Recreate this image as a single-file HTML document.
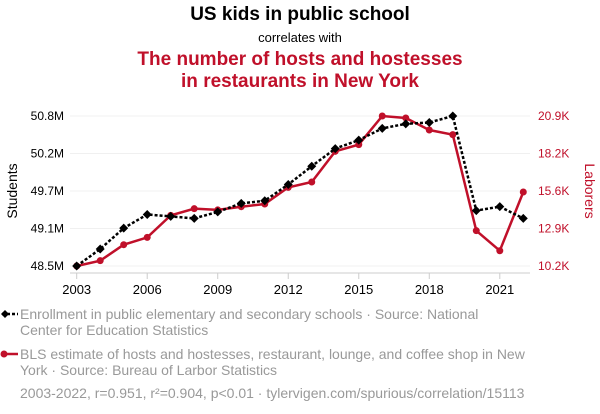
<!DOCTYPE html>
<html><head><meta charset="utf-8"><style>
body{margin:0;width:600px;height:414px;background:#fff;overflow:hidden;font-family:"Liberation Sans",sans-serif}
svg{display:block}
</style></head><body>
<svg id="chart" width="600" height="414">
<text x="300" y="20" text-anchor="middle" font-size="19" font-weight="bold" fill="#000">US kids in public school</text>
<text x="300" y="42" text-anchor="middle" font-size="13" fill="#000">correlates with</text>
<text x="300" y="65" text-anchor="middle" font-size="19" font-weight="bold" fill="#c0102a">The number of hosts and hostesses</text>
<text x="300" y="87" text-anchor="middle" font-size="19" font-weight="bold" fill="#c0102a">in restaurants in New York</text>
<text transform="translate(17,191) rotate(-90)" text-anchor="middle" font-size="14" fill="#000">Students</text>
<text transform="translate(585,191) rotate(90)" text-anchor="middle" font-size="14" fill="#c0102a">Laborers</text>
<g id="grid"></g><g id="axes"></g><g id="series"></g>
<g>
<line x1="2" y1="314" x2="18" y2="314" stroke="#000" stroke-width="2.5" stroke-dasharray="3,2"/>
<path d="M5,310 L9,314 L5,318 L1,314Z" fill="#000"/>
<text x="20" y="319" font-size="14" fill="#999">Enrollment in public elementary and secondary schools · Source: National</text>
<text x="20" y="335" font-size="14" fill="#999">Center for Education Statistics</text>
</g>
<g>
<line x1="2" y1="354" x2="18" y2="354" stroke="#c0102a" stroke-width="2.5"/>
<circle cx="4" cy="354" r="3.5" fill="#c0102a"/>
<text x="20" y="359" font-size="14" fill="#999">BLS estimate of hosts and hostesses, restaurant, lounge, and coffee shop in New</text>
<text x="20" y="375" font-size="14" fill="#999">York · Source: Bureau of Larbor Statistics</text>
</g>
<text x="20" y="398" font-size="14" fill="#999">2003-2022, r=0.951, r²=0.904, p&lt;0.01 · tylervigen.com/spurious/correlation/15113</text>
</svg>
<script>
const years=[2003,2004,2005,2006,2007,2008,2009,2010,2011,2012,2013,2014,2015,2016,2017,2018,2019,2020,2021,2022];
const students=[48.5,48.76,49.08,49.29,49.26,49.23,49.33,49.46,49.50,49.75,50.03,50.30,50.43,50.61,50.68,50.70,50.8,49.35,49.41,49.23];
const laborers=[10.2,10.58,11.72,12.24,13.81,14.29,14.2,14.43,14.62,15.81,16.19,18.38,18.86,20.9,20.76,19.9,19.57,12.72,11.29,15.48];
const leftTicks=[48.5,49.075,49.65,50.225,50.8];
const leftLabels=["48.5M","49.1M","49.7M","50.2M","50.8M"];
const rightTicks=[10.2,12.875,15.55,18.225,20.9];
const rightLabels=["10.2K","12.9K","15.6K","18.2K","20.9K"];
const xTicks=[2003,2006,2009,2012,2015,2018,2021];
const NS="http://www.w3.org/2000/svg";
const X=y=>76.7+(y-2003)*23.505;
const YL=v=>266-(v-48.5)/(50.8-48.5)*150;
const YR=v=>266-(v-10.2)/(20.9-10.2)*150;
function mk(tag,attrs,parent){const e=document.createElementNS(NS,tag);for(const k in attrs)e.setAttribute(k,attrs[k]);document.getElementById(parent).appendChild(e);return e;}
leftTicks.forEach((t,i)=>{
 const g=mk('line',{x1:70,x2:530,y1:YL(t),y2:YL(t),stroke:'#f0f0f0','stroke-width':1},'grid');
 
 
 const l=mk('text',{x:64,y:YL(t)+4,'text-anchor':'end','font-size':12,fill:'#000'},'axes');l.textContent=leftLabels[i];
 
 
});
rightTicks.forEach((t,i)=>{
 const l=mk('text',{x:538,y:YR(t)+4,'font-size':12,fill:'#c0102a'},'axes');l.textContent=rightLabels[i];
 
 
});
mk('line',{x1:70,x2:530,y1:273,y2:273,stroke:'#ccc'},'axes');
xTicks.forEach(t=>{
 mk('line',{x1:X(t),x2:X(t),y1:273,y2:279,stroke:'#ccc'},'axes');
 const l=mk('text',{x:X(t),y:294,'text-anchor':'middle','font-size':13,fill:'#000'},'axes');l.textContent=t;
 
 
});
const rp=years.map((y,i)=>X(y)+','+YR(laborers[i])).join(' ');
const rl=mk('polyline',{points:rp,fill:'none',stroke:'#c0102a','stroke-width':2.5},'series');


years.forEach((y,i)=>{
 const c=mk('circle',{cx:X(y),cy:YR(laborers[i]),r:3.5,fill:'#c0102a'},'series');
 
 
});
const bp=years.map((y,i)=>X(y)+','+YL(students[i])).join(' ');
const bl=mk('polyline',{points:bp,fill:'none',stroke:'#000','stroke-width':2.5,'stroke-dasharray':'3,2'},'series');


years.forEach((y,i)=>{
 const x=X(y),v=YL(students[i]);
 const d=mk('path',{d:`M${x},${v-4.5}L${x+4.5},${v}L${x},${v+4.5}L${x-4.5},${v}Z`,fill:'#000'},'series');
 
 
});
</script>
</body></html>
